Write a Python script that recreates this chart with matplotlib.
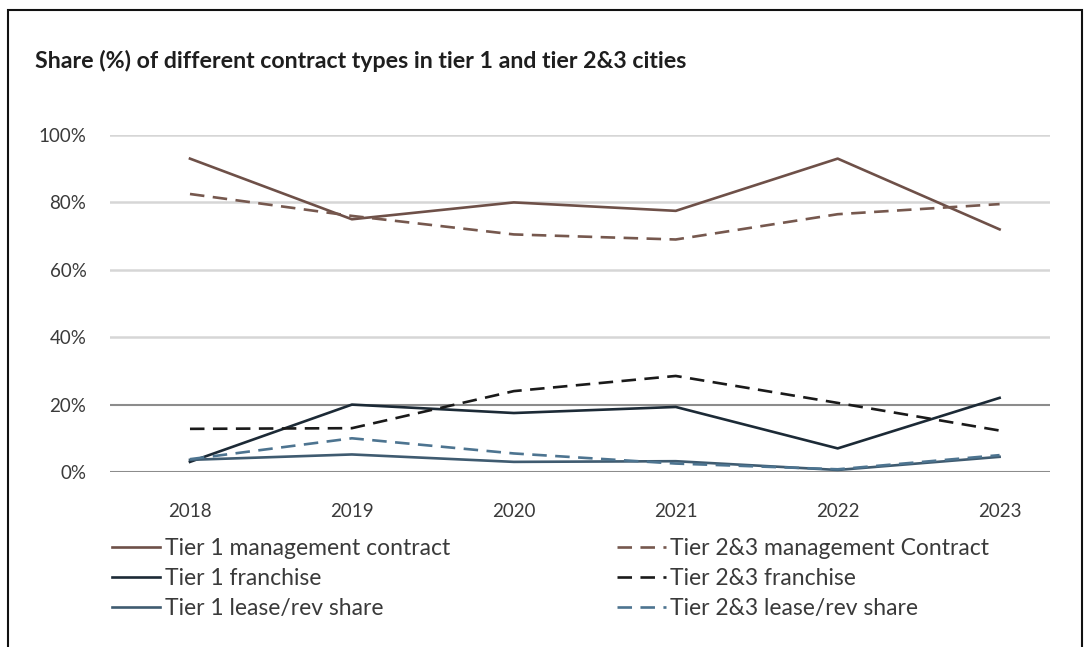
import matplotlib.pyplot as plt
from matplotlib.patches import Rectangle
from matplotlib.ticker import FuncFormatter

plt.rcParams['font.family'] = ['Lato', 'DejaVu Sans']

years = ['2018', '2019', '2020', '2021', '2022', '2023']

t1_management = [93, 75, 80, 77.5, 93, 72]
t23_management = [82.5, 76, 70.5, 69, 76.5, 79.5]
t1_franchise = [3, 20, 17.5, 19.3, 7, 22]
t23_franchise = [12.8, 13, 24, 28.5, 20.5, 12.3]
t1_lease = [3.6, 5.2, 3, 3.2, 0.6, 4.5]
t23_lease = [3.8, 10, 5.5, 2.5, 0.8, 5]

x = list(range(len(years)))

fig = plt.figure(figsize=(10.89, 6.47), dpi=100)
ax = fig.add_axes([0.101, 0.2705, 0.863, 0.5208])

dash = (5.5, 3.2)
lw = 1.9
l1, = ax.plot(x, t1_management, color='#6e5048', lw=lw, label='Tier 1 management contract')
l4, = ax.plot(x, t23_management, color='#76584e', lw=lw, dashes=dash, label='Tier 2&3 management Contract')
l2, = ax.plot(x, t1_franchise, color='#1c2a36', lw=lw, label='Tier 1 franchise')
l5, = ax.plot(x, t23_franchise, color='#1a1a1a', lw=lw, dashes=dash, label='Tier 2&3 franchise')
l3, = ax.plot(x, t1_lease, color='#3f5b70', lw=lw, label='Tier 1 lease/rev share')
l6, = ax.plot(x, t23_lease, color='#4d7490', lw=lw, dashes=dash, label='Tier 2&3 lease/rev share')
for ln in (l1, l2, l3, l4, l5, l6):
    ln.set_clip_on(False)

# горизонтальная сетка: 0% и 20% темнее остальных
for v in [40, 60, 80, 100]:
    ax.axhline(v, color='#d6d6d6', lw=1.8, zorder=0)
for v in [0, 20]:
    ax.axhline(v, color='#8c8c8c', lw=1.5, zorder=0)

ax.set_xlim(-0.494, 5.31)
ax.set_ylim(0, 100)
ax.set_xticks(x)
ax.set_xticklabels(years)
ax.set_yticks([0, 20, 40, 60, 80, 100])
ax.yaxis.set_major_formatter(FuncFormatter(lambda v, p: f'{v:.0f}%'))
ax.tick_params(length=0, labelsize=13.5, colors='#3a3a3a')
ax.tick_params(axis='x', pad=22)
ax.tick_params(axis='y', pad=17)
for s in ax.spines.values():
    s.set_visible(False)

fig.text(0.032, 0.906, 'Share (%) of different contract types in tier 1 and tier 2&3 cities',
         fontsize=16.7, fontweight='bold', color='#1e1e1e', ha='left', va='center')

fig.legend(handles=[l1, l2, l3, l4, l5, l6], loc='upper left', bbox_to_anchor=(0.103, 0.168),
           ncol=2, frameon=False, fontsize=16.5, handlelength=2.1, handletextpad=0.2,
           columnspacing=7.3, labelspacing=0.38, borderpad=0, borderaxespad=0,
           labelcolor='#3a3a3a')

fig.patches.append(Rectangle((8 / 1089, -0.05), 1074 / 1089, 1.05 - 10 / 647,
                             transform=fig.transFigure, fill=False, edgecolor='#111111', lw=1.5))

fig.savefig('out.png', dpi=100, facecolor='white')
